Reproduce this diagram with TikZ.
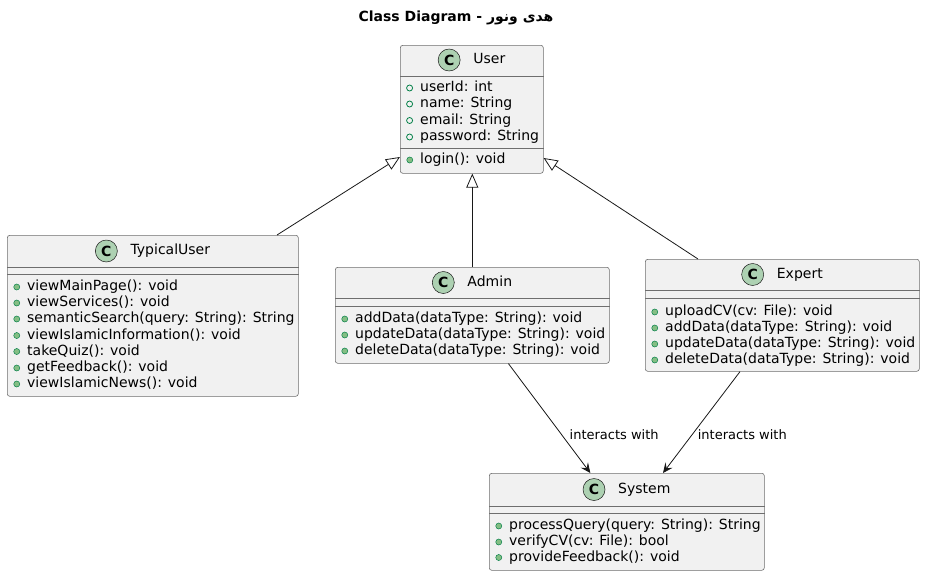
\documentclass[tikz,border=0pt]{standalone}
\usepackage{fontspec}
\setmainfont{DejaVu Sans}
\newfontfamily\arabicfont[Script=Arabic]{DejaVu Sans}
\TeXXeTstate=1
\usetikzlibrary{arrows.meta,calc}

\definecolor{boxfill}{HTML}{F1F1F1}
\definecolor{boxline}{HTML}{181818}
\definecolor{sepline}{HTML}{6E6E6E}
\definecolor{spotfill}{HTML}{ADD1B2}
\definecolor{pubfill}{HTML}{84BE84}
\definecolor{publine}{HTML}{038048}

\tikzset{
	classbox/.style={draw=sepline, fill=boxfill, line width=0.6pt, rounded corners=2.5pt, anchor=north west, inner sep=0pt},
	spot/.style={circle, draw=boxline, fill=spotfill, line width=0.5pt, minimum size=22pt, inner sep=0pt, font=\fontsize{14}{14}\selectfont\bfseries},
	cname/.style={inner sep=0pt, font=\fontsize{14}{16}\selectfont, text height=10pt, text depth=3pt},
	member/.style={inner sep=0pt, anchor=west, font=\fontsize{14}{16}\selectfont, text height=10pt, text depth=3pt},
	op/.style={member, label={[circle, draw=publine, fill=pubfill, minimum size=6pt, inner sep=0pt, line width=0.5pt, label distance=7pt]left:{}}},
	attr/.style={member, label={[circle, draw=publine, minimum size=6pt, inner sep=0pt, line width=0.8pt, label distance=7pt]left:{}}},
	sep/.style={draw=sepline, line width=0.5pt},
	extends/.style={draw=boxline, line width=0.8pt, -{Triangle[open,length=14pt,width=12pt]}},
	uses/.style={draw=boxline, line width=0.8pt, -{Stealth[length=10pt,width=9pt,inset=4pt]}},
	elabel/.style={font=\fontsize{13}{15}\selectfont, inner sep=0pt, anchor=west}
}

\begin{document}
\begin{tikzpicture}[x=1pt, y=-1pt]
	\useasboundingbox (0,0) rectangle (925,576);
	
	%TITLE
	\node[inner sep=0pt, font=\fontsize{14}{16}\selectfont\bfseries] (title) at (456,18) {Class Diagram - {\arabicfont\beginR هدی ونور\endR}};
	
	%USER
	\node[classbox, minimum width=143pt, minimum height=128pt] (user) at (400,45) {};
	\node[cname] (userName) at ($(user.north)+(17.5,15)$) {User};
	\node[spot] (userSpot) at ($(userName.west)+(-24,0)$) {C};
	\draw[sep] ($(user.north west)+(0,31)$) -- ($(user.north east)+(0,31)$);
	\node[attr] (userA1) at ($(user.north west)+(20,43)$) {userId: int};
	\node[attr] (userA2) at ($(user.north west)+(20,59)$) {name: String};
	\node[attr] (userA3) at ($(user.north west)+(20,75.5)$) {email: String};
	\node[attr] (userA4) at ($(user.north west)+(20,92)$) {password: String};
	\draw[sep] ($(user.north west)+(0,103)$) -- ($(user.north east)+(0,103)$);
	\node[op] (userM1) at ($(user.north west)+(20,115)$) {login(): void};
	
	%TYPICALUSER
	\node[classbox, minimum width=291pt, minimum height=161pt] (typical) at (7,235) {};
	\node[cname] (typicalName) at ($(typical.north)+(17.5,16)$) {TypicalUser};
	\node[spot] (typicalSpot) at ($(typicalName.west)+(-24,0)$) {C};
	\draw[sep] ($(typical.north west)+(0,32)$) -- ($(typical.north east)+(0,32)$);
	\draw[sep] ($(typical.north west)+(0,39)$) -- ($(typical.north east)+(0,39)$);
	\node[op] (typicalM1) at ($(typical.north west)+(20,52)$) {viewMainPage(): void};
	\node[op] (typicalM2) at ($(typical.north west)+(20,68)$) {viewServices(): void};
	\node[op] (typicalM3) at ($(typical.north west)+(20,84)$) {semanticSearch(query: String): String};
	\node[op] (typicalM4) at ($(typical.north west)+(20,100.5)$) {viewIslamicInformation(): void};
	\node[op] (typicalM5) at ($(typical.north west)+(20,116.5)$) {takeQuiz(): void};
	\node[op] (typicalM6) at ($(typical.north west)+(20,133)$) {getFeedback(): void};
	\node[op] (typicalM7) at ($(typical.north west)+(20,149)$) {viewIslamicNews(): void};
	
	%ADMIN
	\node[classbox, minimum width=274pt, minimum height=96pt] (admin) at (335,267) {};
	\node[cname] (adminName) at ($(admin.north)+(17.5,15.5)$) {Admin};
	\node[spot] (adminSpot) at ($(adminName.west)+(-24,0)$) {C};
	\draw[sep] ($(admin.north west)+(0,31)$) -- ($(admin.north east)+(0,31)$);
	\draw[sep] ($(admin.north west)+(0,39)$) -- ($(admin.north east)+(0,39)$);
	\node[op] (adminM1) at ($(admin.north west)+(20,52)$) {addData(dataType: String): void};
	\node[op] (adminM2) at ($(admin.north west)+(20,68)$) {updateData(dataType: String): void};
	\node[op] (adminM3) at ($(admin.north west)+(20,84)$) {deleteData(dataType: String): void};
	
	%EXPERT
	\node[classbox, minimum width=274pt, minimum height=112pt] (expert) at (645,259) {};
	\node[cname] (expertName) at ($(expert.north)+(17.5,15.5)$) {Expert};
	\node[spot] (expertSpot) at ($(expertName.west)+(-24,0)$) {C};
	\draw[sep] ($(expert.north west)+(0,31)$) -- ($(expert.north east)+(0,31)$);
	\draw[sep] ($(expert.north west)+(0,39)$) -- ($(expert.north east)+(0,39)$);
	\node[op] (expertM1) at ($(expert.north west)+(20,53)$) {uploadCV(cv: File): void};
	\node[op] (expertM2) at ($(expert.north west)+(20,69)$) {addData(dataType: String): void};
	\node[op] (expertM3) at ($(expert.north west)+(20,85)$) {updateData(dataType: String): void};
	\node[op] (expertM4) at ($(expert.north west)+(20,101)$) {deleteData(dataType: String): void};
	
	%SYSTEM
	\node[classbox, minimum width=275pt, minimum height=97pt] (system) at (489,473) {};
	\node[cname] (systemName) at ($(system.north)+(17.5,16.5)$) {System};
	\node[spot] (systemSpot) at ($(systemName.west)+(-24,0)$) {C};
	\draw[sep] ($(system.north west)+(0,33)$) -- ($(system.north east)+(0,33)$);
	\draw[sep] ($(system.north west)+(0,40)$) -- ($(system.north east)+(0,40)$);
	\node[op] (systemM1) at ($(system.north west)+(20,53)$) {processQuery(query: String): String};
	\node[op] (systemM2) at ($(system.north west)+(20,69)$) {verifyCV(cv: File): bool};
	\node[op] (systemM3) at ($(system.north west)+(20,84.5)$) {provideFeedback(): void};
	
	%GENERALIZATION
	\draw[extends] ($(typical.north west)+(270,0)$) -- ($(user.north west)+(0,112)$);
	\draw[extends] (admin.north) -- (admin.north |- user.south);
	\draw[extends] ($(expert.north west)+(53,0)$) -- ($(user.north east)+(0,113)$);
	
	%ASSOCIATIONS
	\draw[uses] (admin) -- node[elabel, pos=0.645, xshift=8pt] (adminLabel) {interacts with} (system);
	\draw[uses] ($(expert.south west)+(95,0)$) -- node[elabel, pos=0.618, xshift=5pt] (expertLabel) {interacts with} ($(system.north west)+(174,0)$);
\end{tikzpicture}
\end{document}
